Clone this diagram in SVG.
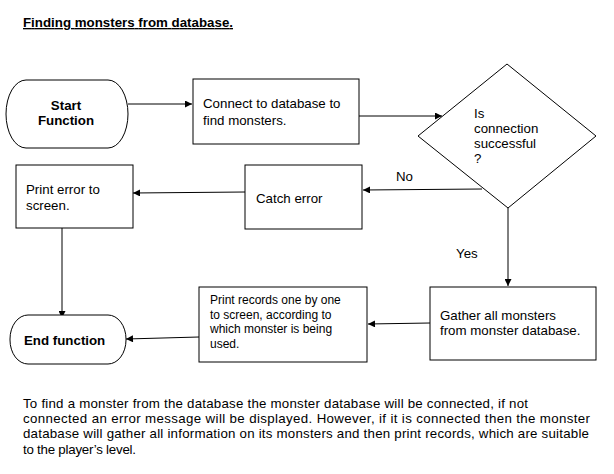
<svg xmlns="http://www.w3.org/2000/svg" width="614" height="474" viewBox="0 0 614 474">
<style>
text{font-family:"Liberation Sans",Arial,sans-serif;font-size:13.3px;fill:#000}
.b{font-weight:bold}
.s{font-size:12px}
.shape{fill:#fff;stroke:#000;stroke-width:1}
.conn{stroke:#000;stroke-width:1;fill:none;marker-end:url(#ah)}
</style>
<defs>
<marker id="ah" viewBox="0 0 10 10" refX="10" refY="5" markerWidth="8" markerHeight="7" markerUnits="userSpaceOnUse" orient="auto">
<path d="M0,0 L10,5 L0,10 z" fill="#000"/>
</marker>
</defs>
<rect width="614" height="474" fill="#fff"/>
<text id="title" class="b" x="23" y="27" text-decoration="underline" textLength="210" lengthAdjust="spacing">Finding monsters from database.</text>

<g id="connectors">
<line class="conn" x1="128" y1="104" x2="192" y2="104"/>
<line class="conn" x1="359" y1="116" x2="442" y2="116"/>
<line class="conn" x1="482" y1="189" x2="363" y2="190"/>
<line class="conn" x1="245" y1="192" x2="133" y2="193"/>
<line class="conn" x1="62" y1="228" x2="62" y2="318"/>
<line class="conn" x1="508" y1="208" x2="508" y2="286"/>
<line class="conn" x1="430" y1="323" x2="368" y2="324"/>
<line class="conn" x1="199" y1="337" x2="126" y2="339"/>
<text x="396" y="181">No</text>
<text x="456" y="258">Yes</text>
</g>

<g id="start">
<rect class="shape" x="6" y="80" width="122" height="68" rx="20" ry="34"/>
<text class="b" x="66" y="110" text-anchor="middle">Start</text>
<text class="b" x="66" y="125" text-anchor="middle">Function</text>
</g>

<g id="connect">
<rect class="shape" x="193" y="79" width="166" height="65"/>
<text x="203" y="108">Connect to database to</text>
<text x="203" y="125">find monsters.</text>
</g>

<g id="decision">
<polygon class="shape" points="507,64 596,136 508,208 418,136"/>
<text x="474" y="118">Is</text>
<text x="474" y="133">connection</text>
<text x="474" y="148">successful</text>
<text x="474" y="163">?</text>
</g>

<g id="catch">
<rect class="shape" x="245" y="165" width="117" height="64"/>
<text x="256" y="203">Catch error</text>
</g>

<g id="printerror">
<rect class="shape" x="16" y="165" width="117" height="63"/>
<text x="26" y="194">Print error to</text>
<text x="26" y="210">screen.</text>
</g>

<g id="gather">
<rect class="shape" x="430" y="287" width="166" height="73"/>
<text x="440" y="320">Gather all monsters</text>
<text x="440" y="335">from monster database.</text>
</g>

<g id="printrecords">
<rect class="shape" x="199" y="287" width="168" height="75"/>
<text class="s" x="210" y="304">Print records one by one</text>
<text class="s" x="210" y="318.5">to screen, according to</text>
<text class="s" x="210" y="333">which monster is being</text>
<text class="s" x="210" y="347.5">used.</text>
</g>

<g id="end">
<rect class="shape" x="10" y="315" width="116" height="49" rx="18" ry="24"/>
<text class="b" x="24" y="345">End function</text>
</g>

<g id="description">
<text x="23" y="408" textLength="505" lengthAdjust="spacing">To find a monster from the database the monster database will be connected, if not</text>
<text x="23" y="423" textLength="567" lengthAdjust="spacing">connected an error message will be displayed. However, if it is connected then the monster</text>
<text x="23" y="438" textLength="566" lengthAdjust="spacing">database will gather all information on its monsters and then print records, which are suitable</text>
<text x="23" y="454" textLength="113" lengthAdjust="spacing">to the player’s level.</text>
</g>
</svg>
